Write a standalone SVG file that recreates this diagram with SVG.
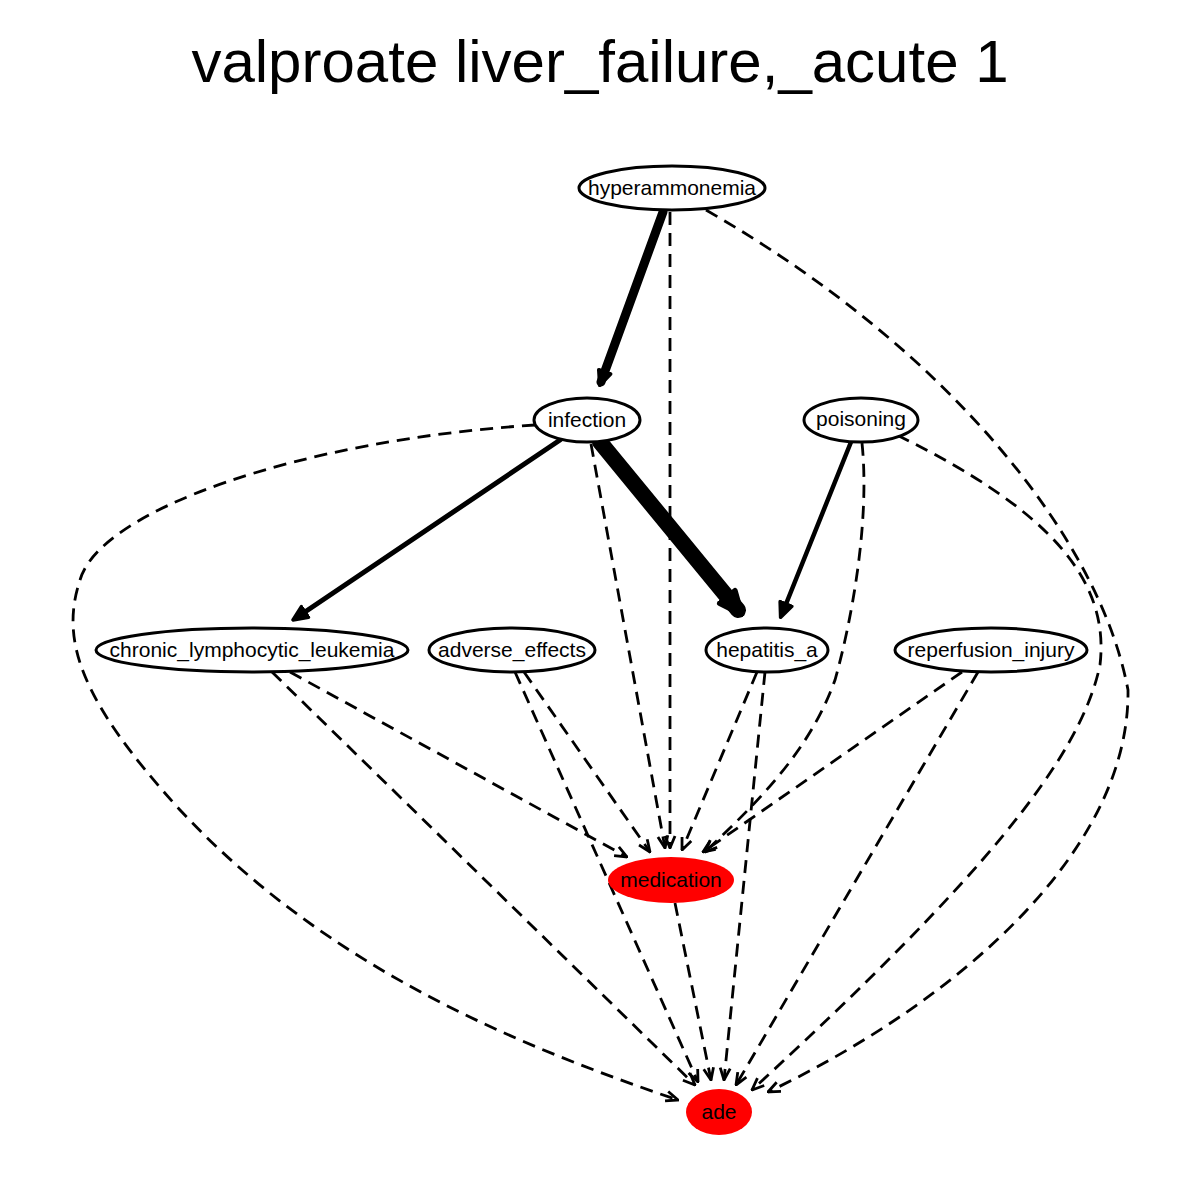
<svg xmlns="http://www.w3.org/2000/svg" width="1200" height="1200" viewBox="0 0 1200 1200">
<style>
.title{font-family:"Liberation Sans",Arial,sans-serif;font-size:60px;text-anchor:middle;fill:#000}
.lbl{font-family:"Liberation Sans",Arial,sans-serif;font-size:21px;text-anchor:middle;fill:#000}
.n{fill:#fff;stroke:#000;stroke-width:3}
.r{fill:#ff0000;stroke:none}
.d{fill:none;stroke:#000;stroke-width:2.8;stroke-dasharray:13,8;marker-end:url(#v)}
.s{fill:none;stroke:#000;stroke-linecap:round}
</style>
<defs>
<marker id="v" viewBox="0 0 14 14" refX="13" refY="7" markerWidth="14" markerHeight="14" markerUnits="userSpaceOnUse" orient="auto">
<path d="M1,2 L13,7 L1,12" fill="none" stroke="#000" stroke-width="2.8"/>
</marker>
<marker id="b" viewBox="0 0 10 10" refX="7" refY="5" markerWidth="18" markerHeight="18" markerUnits="userSpaceOnUse" orient="auto">
<path d="M1,1.5 L9,5 L1,8.5 Z" fill="#000" stroke="#000" stroke-width="2" stroke-linejoin="round"/>
</marker>
<marker id="bb" viewBox="0 0 10 10" refX="7" refY="5" markerWidth="28" markerHeight="28" markerUnits="userSpaceOnUse" orient="auto">
<path d="M1,1.5 L9,5 L1,8.5 Z" fill="#000" stroke="#000" stroke-width="2" stroke-linejoin="round"/>
</marker>
</defs>
<rect width="1200" height="1200" fill="#fff"/>
<text class="title" x="600" y="82">valproate liver_failure,_acute 1</text>
<g id="edges">
<path class="s" stroke-width="9" marker-end="url(#b)" d="M663,212 L601,382"/>
<path class="s" stroke-width="16" marker-end="url(#bb)" d="M600,442 L738,610"/>
<path class="s" stroke-width="5" marker-end="url(#b)" d="M560,440 L296,618"/>
<path class="s" stroke-width="4.5" marker-end="url(#b)" d="M851,442 L782,614"/>
<path class="d" d="M670,212 L670,848"/>
<path class="d" d="M706,210 C950,350 1100,540 1128,690 C1130,850 960,1000 768,1092"/>
<path class="d" d="M535,425 C300,440 100,510 80,580 C60,640 80,700 180,810 C320,960 500,1040 678,1100"/>
<path class="d" d="M591,444 L665,848"/>
<path class="d" d="M862,443 C870,520 852,620 835,680 C810,750 760,800 705,852"/>
<path class="d" d="M897,435 C1050,510 1110,580 1100,665 C1080,760 980,880 752,1090"/>
<path class="d" d="M290,672 L627,857"/>
<path class="d" d="M272,672 L695,1085"/>
<path class="d" d="M524,672 L650,852"/>
<path class="d" d="M515,672 L698,1082"/>
<path class="d" d="M757,672 L682,850"/>
<path class="d" d="M765,672 L724,1080"/>
<path class="d" d="M962,672 L703,852"/>
<path class="d" d="M978,672 L736,1085"/>
<path class="d" d="M675,903 L711,1080"/>
</g>
<g id="hyperammonemia"><ellipse class="n" cx="672" cy="188" rx="93" ry="22"/><text class="lbl" x="672" y="195">hyperammonemia</text></g>
<g id="infection"><ellipse class="n" cx="587" cy="420" rx="53" ry="22"/><text class="lbl" x="587" y="427">infection</text></g>
<g id="poisoning"><ellipse class="n" cx="861" cy="420" rx="57" ry="22"/><text class="lbl" x="861" y="426">poisoning</text></g>
<g id="chronic_lymphocytic_leukemia"><ellipse class="n" cx="252" cy="650" rx="156" ry="22"/><text class="lbl" x="252" y="657">chronic_lymphocytic_leukemia</text></g>
<g id="adverse_effects"><ellipse class="n" cx="512" cy="650" rx="83" ry="22"/><text class="lbl" x="512" y="657">adverse_effects</text></g>
<g id="hepatitis_a"><ellipse class="n" cx="767" cy="650" rx="61" ry="22"/><text class="lbl" x="767" y="657">hepatitis_a</text></g>
<g id="reperfusion_injury"><ellipse class="n" cx="991" cy="650" rx="96" ry="22"/><text class="lbl" x="991" y="657">reperfusion_injury</text></g>
<g id="medication"><ellipse class="r" cx="671" cy="880" rx="63" ry="23"/><text class="lbl" x="671" y="887">medication</text></g>
<g id="ade"><ellipse class="r" cx="719" cy="1112" rx="33" ry="23"/><text class="lbl" x="719" y="1119">ade</text></g>
</svg>
